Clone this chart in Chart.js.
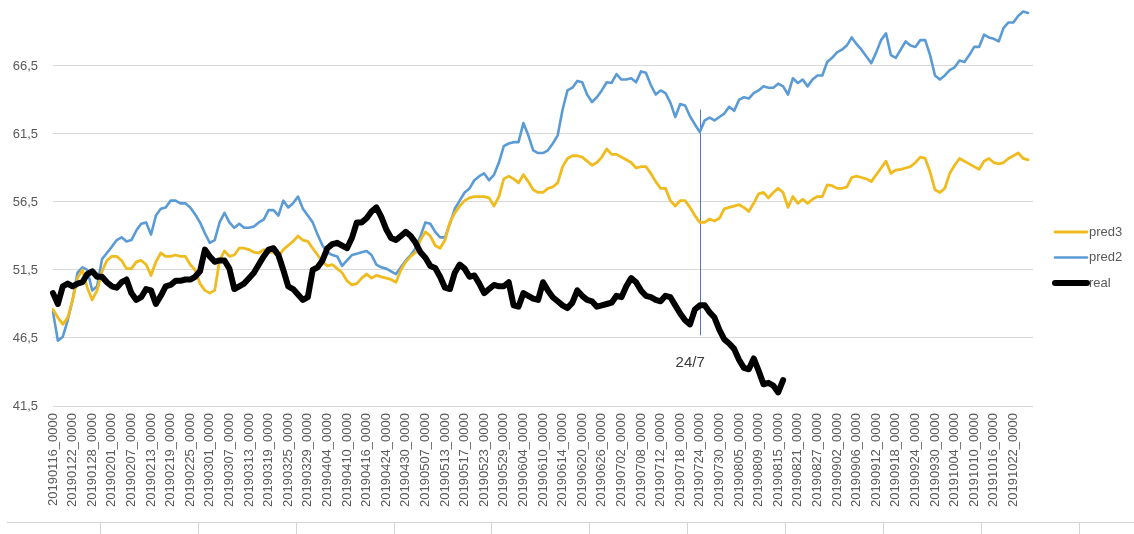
<!DOCTYPE html>
<html>
<head>
<meta charset="utf-8">
<title>pred vs real</title>
<script src="https://cdn.jsdelivr.net/npm/chart.js@4.4.1/dist/chart.umd.min.js"></script>
<style>
    html, body { margin: 0; padding: 0; background: #fff; }
    #wrap { position: relative; width: 1134px; height: 534px; }
</style>
</head>
<body>
<div id="wrap"><canvas id="chart"></canvas></div>
<script>
// trading days, one label shown every 4th day
const firstDay = '2019-01-16';
const closedDays = ['20190419', '20190422', '20190501'];
const dayCount = 201;
const labelStep = 4;

const yTicks = [41.5, 46.5, 51.5, 56.5, 61.5, 66.5];

const pred3 = [
    48.6, 48.0, 47.5, 48.0, 49.3, 50.9, 51.5, 50.2, 49.3, 50.0,
    51.4, 52.2, 52.5, 52.5, 52.2, 51.6, 51.6, 52.1, 52.2, 51.9,
    51.1, 52.1, 52.75, 52.5, 52.5, 52.6, 52.5, 52.5, 51.9, 51.5,
    50.5, 50.0, 49.8, 50.0, 52.2, 52.9, 52.5, 52.6, 53.1, 53.1,
    53.0, 52.8, 52.75, 53.0, 52.8, 52.8, 52.5, 53.0, 53.3, 53.6,
    54.0, 53.7, 53.6, 53.1, 52.6, 52.1, 51.8, 51.9, 51.6, 51.3,
    50.7, 50.4, 50.5, 50.9, 51.2, 50.9, 51.1, 51.0, 50.9, 50.8,
    50.6, 51.5, 52.1, 52.5, 52.8, 53.7, 54.3, 54.0, 53.3, 53.1,
    53.7, 55.0, 55.7, 56.2, 56.6, 56.8, 56.9, 56.9, 56.9, 56.8,
    56.2, 56.9, 58.2, 58.4, 58.2, 57.9, 58.5, 58.0, 57.4, 57.2,
    57.2, 57.5, 57.6, 57.9, 59.1, 59.7, 59.9, 59.9, 59.8, 59.5,
    59.2, 59.4, 59.8, 60.4, 60.0, 60.0, 59.8, 59.6, 59.4, 59.0,
    59.1, 59.1, 58.6, 58.0, 57.5, 57.5, 56.6, 56.2, 56.6, 56.6,
    56.1, 55.5, 55.0, 55.0, 55.25, 55.1, 55.3, 56.0, 56.1, 56.2,
    56.3, 56.1, 55.8, 56.4, 57.1, 57.2, 56.8, 57.2, 57.5, 57.2,
    56.1, 56.9, 56.4, 56.7, 56.4, 56.7, 56.9, 56.9, 57.75, 57.7,
    57.5, 57.5, 57.6, 58.3, 58.4, 58.3, 58.2, 58.0, 58.5, 59.0,
    59.5, 58.6, 58.85, 58.9, 59.0, 59.1, 59.4, 59.8, 59.7, 58.7,
    57.4, 57.2, 57.5, 58.6, 59.2, 59.7, 59.5, 59.3, 59.1, 58.9,
    59.5, 59.7, 59.4, 59.3, 59.4, 59.7, 59.9, 60.1, 59.7, 59.6
];

const pred2 = [
    48.4, 46.3, 46.6, 47.8, 49.3, 51.3, 51.7, 51.5, 50.0, 50.3,
    52.3, 52.75, 53.2, 53.7, 53.9, 53.6, 53.7, 54.4, 54.9, 55.0,
    54.1, 55.5, 56.0, 56.1, 56.6, 56.6, 56.4, 56.4, 56.1, 55.6,
    55.0, 54.2, 53.5, 53.7, 55.0, 55.7, 55.0, 54.6, 54.9, 54.6,
    54.6, 54.7, 55.0, 55.2, 55.9, 55.9, 55.5, 56.6, 56.1, 56.4,
    56.9, 56.0, 55.5, 55.0, 54.1, 53.3, 52.8, 52.6, 52.5, 51.8,
    52.2, 52.6, 52.7, 52.8, 52.9, 52.6, 51.9, 51.7, 51.6, 51.4,
    51.2, 51.7, 52.2, 52.6, 53.1, 54.0, 55.0, 54.9, 54.3, 53.9,
    53.9, 54.9, 56.0, 56.6, 57.2, 57.5, 58.1, 58.4, 58.6, 58.1,
    58.5, 59.4, 60.6, 60.8, 60.9, 60.9, 62.3, 61.4, 60.3, 60.1,
    60.1, 60.3, 60.8, 61.4, 63.3, 64.7, 64.9, 65.4, 65.3, 64.4,
    63.85, 64.2, 64.7, 65.3, 65.25, 65.9, 65.5, 65.5, 65.6, 65.3,
    66.1, 66.0, 65.1, 64.4, 64.7, 64.5, 63.8, 62.75, 63.7, 63.6,
    62.8, 62.2, 61.65, 62.5, 62.7, 62.5, 62.75, 63.0, 63.5, 63.2,
    64.0, 64.2, 64.1, 64.5, 64.7, 65.0, 64.9, 64.9, 65.2, 65.0,
    64.4, 65.6, 65.25, 65.5, 65.0, 65.5, 65.8, 65.8, 66.8, 67.1,
    67.5, 67.7, 68.0, 68.6, 68.1, 67.7, 67.2, 66.7, 67.5, 68.4,
    68.9, 67.3, 67.1, 67.7, 68.3, 68.0, 67.9, 68.4, 68.4, 67.3,
    65.8, 65.5, 65.8, 66.2, 66.4, 66.9, 66.8, 67.3, 67.9, 67.9,
    68.8, 68.6, 68.5, 68.3, 69.3, 69.7, 69.7, 70.2, 70.5, 70.4
];

const real = [
    49.8, 49.0, 50.3, 50.5, 50.3, 50.5, 50.6, 51.2, 51.4, 51.0,
    51.0, 50.6, 50.3, 50.2, 50.6, 50.8, 49.8, 49.3, 49.5, 50.1,
    50.0, 49.0, 49.6, 50.3, 50.4, 50.7, 50.7, 50.8, 50.8, 51.0,
    51.4, 53.0, 52.5, 52.1, 52.2, 52.2, 51.6, 50.1, 50.3, 50.5,
    50.9, 51.3, 51.9, 52.5, 53.0, 53.1, 52.6, 51.5, 50.3, 50.1,
    49.7, 49.3, 49.5, 51.5, 51.7, 52.2, 53.1, 53.4, 53.5, 53.3,
    53.1, 53.85, 55.0, 55.0, 55.3, 55.8, 56.1, 55.4, 54.5, 53.85,
    53.7, 54.0, 54.3, 54.0, 53.5, 52.8, 52.4, 51.8, 51.65, 51.0,
    50.2, 50.1, 51.3, 51.9, 51.6, 51.0, 51.1, 50.5, 49.8, 50.1,
    50.4, 50.3, 50.3, 50.6, 48.9, 48.8, 49.8, 49.6, 49.4, 49.3,
    50.6, 50.0, 49.5, 49.2, 48.9, 48.7, 49.1, 50.0, 49.6, 49.3,
    49.2, 48.8, 48.9, 49.0, 49.1, 49.6, 49.5, 50.3, 50.9, 50.6,
    50.0, 49.6, 49.5, 49.3, 49.2, 49.6, 49.5, 48.9, 48.3, 47.8,
    47.5, 48.6, 48.9, 48.9, 48.4, 48.0, 47.1, 46.4, 46.1, 45.7,
    44.9, 44.3, 44.2, 45.0, 44.1, 43.1, 43.2, 43.0, 42.5, 43.4
];

// the "24/7" marker
const markerDay = '20190724_0000';
const markerRange = [46.7, 63.3];
const markerText = '24/7';
const markerTextAt = 44.4;

function tradingDays(start, count, closed) {
    let out = [];
    let d = new Date(start + 'T00:00:00Z');
    while (out.length < count) {
        let wd = d.getUTCDay();
        let s = d.toISOString().slice(0, 10).replace(/-/g, '');
        if (wd !== 0 && wd !== 6 && !closed.includes(s)) out.push(s + '_0000');
        d.setUTCDate(d.getUTCDate() + 1);
    }
    return out;
}

const days = tradingDays(firstDay, dayCount, closedDays);

const textGray = '#595959';
const baseFont = { family: '"Liberation Sans", Arial, sans-serif', size: 13 };

const markerPlugin = {
    id: 'marker',
    beforeDatasetsDraw(chart) {
        let x = chart.scales.x.getPixelForValue(days.indexOf(markerDay));
        let y = chart.scales.y;
        let ctx = chart.ctx;
        ctx.save();
        ctx.strokeStyle = '#4f79b8';
        ctx.lineWidth = 1;
        ctx.beginPath();
        ctx.moveTo(Math.round(x) + 0.5, y.getPixelForValue(markerRange[1]));
        ctx.lineTo(Math.round(x) + 0.5, y.getPixelForValue(markerRange[0]));
        ctx.stroke();
        ctx.fillStyle = '#3a3a3a';
        ctx.font = '15px "Liberation Sans", Arial, sans-serif';
        ctx.textAlign = 'right';
        ctx.textBaseline = 'alphabetic';
        ctx.fillText(markerText, x + 5, y.getPixelForValue(markerTextAt));
        ctx.restore();
    }
};

const sideLegend = {
    id: 'sideLegend',
    afterDraw(chart) {
        let ctx = chart.ctx;
        let x0 = chart.chartArea.right + 22;
        ctx.save();
        ctx.font = '13px "Liberation Sans", Arial, sans-serif';
        ctx.textBaseline = 'middle';
        ctx.textAlign = 'left';
        chart.data.datasets.forEach((ds, i) => {
            let y = 232 + i * 25.5;
            ctx.strokeStyle = ds.borderColor;
            ctx.lineWidth = ds.borderWidth;
            ctx.lineCap = 'round';
            ctx.beginPath();
            ctx.moveTo(x0, y);
            ctx.lineTo(x0 + 32, y);
            ctx.stroke();
            ctx.fillStyle = textGray;
            ctx.fillText(ds.label, x0 + 34, y);
        });
        ctx.restore();
    }
};

// sheet cell borders under the chart
const sheetCells = {
    id: 'sheetCells',
    afterDraw(chart) {
        let ctx = chart.ctx;
        ctx.save();
        ctx.strokeStyle = '#d4d4d4';
        ctx.lineWidth = 1;
        ctx.beginPath();
        ctx.moveTo(7, 522.5);
        ctx.lineTo(chart.width, 522.5);
        for (let k = 0; k < 11; k++) {
            let x = Math.round(100 + k * 97.85) + 0.5;
            ctx.moveTo(x, 522.5);
            ctx.lineTo(x, chart.height);
        }
        ctx.stroke();
        ctx.restore();
    }
};

const chart = new Chart(
    document.getElementById('chart'),
    {
        type: 'line',
        data: {
            labels: days,
            datasets: [
                {
                    label: 'pred3',
                    data: pred3,
                    borderColor: '#f0bb1e',
                    borderWidth: 2.8,
                    order: 1
                },
                {
                    label: 'pred2',
                    data: pred2,
                    borderColor: '#5b9bd5',
                    borderWidth: 2.6,
                    order: 2
                },
                {
                    label: 'real',
                    data: real,
                    borderColor: '#000000',
                    borderWidth: 6,
                    order: 0
                }
            ]
        },
        options: {
            responsive: true,
            maintainAspectRatio: false,
            animation: false,
            elements: {
                point: { radius: 0, hoverRadius: 0 },
                line: { tension: 0, borderJoinStyle: 'round', borderCapStyle: 'round', fill: false }
            },
            layout: { padding: { left: 0, right: 101, top: 0, bottom: 0 } },
            plugins: {
                legend: { display: false },
                tooltip: { enabled: false }
            },
            scales: {
                x: {
                    type: 'category',
                    offset: false,
                    grid: { display: false, drawTicks: false },
                    border: { display: false },
                    ticks: {
                        autoSkip: false,
                        minRotation: 90,
                        maxRotation: 90,
                        padding: 7,
                        color: textGray,
                        font: baseFont,
                        callback: function(val, i) {
                            return (i % labelStep === 0 && i < pred2.length) ? this.getLabelForValue(val) : null;
                        }
                    },
                    afterFit: function(scale) {
                        scale.height = 128;
                        scale.paddingLeft = 0;
                        scale.paddingRight = 0;
                    }
                },
                y: {
                    min: 41.5,
                    max: 71.35,
                    grid: { color: '#d9d9d9', lineWidth: 1, drawTicks: false },
                    border: { display: false },
                    ticks: {
                        padding: 15,
                        color: textGray,
                        font: baseFont,
                        callback: v => v.toFixed(1).replace('.', ',')
                    },
                    afterBuildTicks: function(scale) {
                        scale.ticks = yTicks.map(v => ({ value: v }));
                    },
                    afterFit: function(scale) {
                        scale.width = 53;
                        scale.paddingTop = 0;
                        scale.paddingBottom = 0;
                    }
                }
            }
        },
        plugins: [markerPlugin, sideLegend, sheetCells]
    }
);
</script>
</body>
</html>
